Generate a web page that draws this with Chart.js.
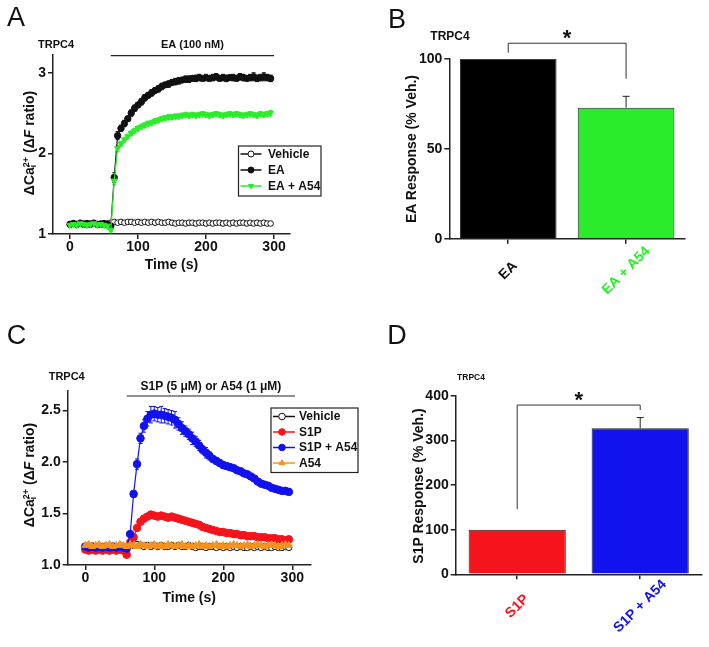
<!DOCTYPE html>
<html>
<head>
<meta charset="utf-8">
<script src="https://cdn.jsdelivr.net/npm/chart.js@4.4.1/dist/chart.umd.min.js"></script>
<style>
  body { margin: 0; background: #fff; }
  #fig { position: relative; width: 709px; height: 647px; overflow: hidden; font-family: "Liberation Sans", Arial, sans-serif; color: #111; }
  #fig canvas { position: absolute; }
  .lbl { position: absolute; transform: translate(-50%, -50%); line-height: 1; white-space: nowrap; font-weight: bold; }
  .letter { font-weight: normal; font-size: 27px; }
  .ytitle { transform: translate(-50%, -50%) rotate(-90deg); font-size: 14px; }
  .ss { display: inline-block; vertical-align: middle; line-height: 0.85; font-size: 9px; text-align: left; }
  .ss span { display: block; }
</style>
</head>
<body>
<div id="fig">
  <canvas id="chartA" width="360" height="320" style="left:0;top:0"></canvas>
  <canvas id="chartB" width="349" height="320" style="left:360px;top:0"></canvas>
  <canvas id="chartC" width="360" height="327" style="left:0;top:320px"></canvas>
  <canvas id="chartD" width="349" height="327" style="left:360px;top:320px"></canvas>

  <div class="lbl letter" style="left:16px;top:17px">A</div>
  <div class="lbl letter" style="left:397px;top:18.5px">B</div>
  <div class="lbl letter" style="left:16.5px;top:334.5px">C</div>
  <div class="lbl letter" style="left:397px;top:334.5px">D</div>

  <div class="lbl" style="left:56px;top:44px;font-size:11px">TRPC4</div>
  <div class="lbl" style="left:450px;top:36px;font-size:12px">TRPC4</div>
  <div class="lbl" style="left:66.7px;top:375.7px;font-size:11px">TRPC4</div>
  <div class="lbl" style="left:471px;top:377px;font-size:8.5px">TRPC4</div>

  <div class="lbl ytitle" style="left:30px;top:143px">ΔCa<span class="ss"><span>2+</span><span>i</span></span> (Δ<i>F</i> ratio)</div>
  <div class="lbl ytitle" style="left:30px;top:475px">ΔCa<span class="ss"><span>2+</span><span>i</span></span> (Δ<i>F</i> ratio)</div>
  <div class="lbl ytitle" style="left:411px;top:149px">EA Response (% Veh.)</div>
  <div class="lbl ytitle" style="left:417.5px;top:486px">S1P Response (% Veh.)</div>
</div>

<script>
// ---------- data ----------
const timePoints = [0,5,10,15,20,25,30,35,40,45,50,55,60,65,70,75,80,85,90,95,100,105,110,115,
  120,125,130,135,140,145,150,155,160,165,170,175,180,185,190,195,200,205,210,215,220,225,230,235,
  240,245,250,255,260,265,270,275,280,285,290,295];

// Panel A (EA 100 nM)
const xTicksA = [0, 100, 200, 300];
const yTicksA = [1, 2, 3];
const vehicleA = [1.12,1.13,1.12,1.14,1.13,1.12,1.13,1.14,1.12,1.13,1.12,1.13,
  1.14,1.15,1.14,1.15,1.14,1.15,1.15,1.14,1.15,1.14,1.15,1.14,
  1.15,1.14,1.15,1.14,1.14,1.15,1.14,1.13,1.14,1.14,1.13,1.14,
  1.14,1.13,1.14,1.14,1.13,1.14,1.13,1.14,1.14,1.13,1.14,1.13,
  1.14,1.13,1.14,1.14,1.13,1.14,1.13,1.14,1.13,1.14,1.13,1.13];
const eaA = [1.12,1.13,1.12,1.13,1.12,1.13,1.12,1.13,1.12,1.12,1.13,1.12,
  1.10,1.70,2.22,2.31,2.37,2.43,2.50,2.56,2.60,2.64,2.69,2.72,
  2.75,2.78,2.80,2.83,2.85,2.86,2.88,2.89,2.90,2.91,2.92,2.92,
  2.93,2.93,2.94,2.93,2.94,2.93,2.94,2.95,2.93,2.94,2.93,2.94,
  2.94,2.93,2.95,2.94,2.93,2.94,2.95,2.93,2.94,2.95,2.94,2.93];
const eaErrA = [0.01,0.01,0.01,0.01,0.01,0.01,0.01,0.01,0.01,0.01,0.01,0.01,
  0.01,0.06,0.05,0.04,0.04,0.03,0.04,0.04,0.03,0.04,0.04,0.03,
  0.04,0.03,0.04,0.04,0.03,0.04,0.03,0.04,0.04,0.03,0.04,0.04,
  0.03,0.04,0.04,0.03,0.04,0.03,0.04,0.04,0.03,0.04,0.04,0.03,
  0.04,0.03,0.04,0.04,0.03,0.04,0.05,0.04,0.04,0.05,0.04,0.04];
const eaA54A = [1.11,1.12,1.11,1.13,1.12,1.11,1.12,1.13,1.11,1.12,1.11,1.10,
  1.05,1.66,2.06,2.12,2.17,2.21,2.25,2.28,2.31,2.33,2.35,2.37,
  2.38,2.40,2.41,2.43,2.44,2.45,2.45,2.46,2.46,2.47,2.48,2.47,
  2.48,2.47,2.48,2.49,2.48,2.47,2.48,2.49,2.48,2.47,2.48,2.49,
  2.48,2.49,2.48,2.47,2.48,2.49,2.48,2.47,2.49,2.48,2.49,2.50];
const eaA54ErrA = [0.02,0.02,0.02,0.02,0.02,0.02,0.02,0.02,0.02,0.02,0.02,0.02,
  0.02,0.05,0.04,0.03,0.03,0.03,0.03,0.03,0.03,0.03,0.03,0.03,
  0.03,0.03,0.03,0.03,0.03,0.03,0.03,0.03,0.03,0.03,0.03,0.03,
  0.03,0.03,0.03,0.03,0.03,0.03,0.03,0.03,0.03,0.03,0.03,0.03,
  0.03,0.03,0.03,0.03,0.03,0.03,0.03,0.03,0.03,0.03,0.03,0.03];

// Panel B
const barLabelsB = ['EA', 'EA + A54'];
const barValuesB = [100, 72.8];
const barErrB = [0, 6.3];
const yTicksB = [0, 50, 100];
const bracketB = [103.3, 108.6, 88.9];   // left leg end, bracket level, right leg end

// Panel C (S1P 5 µM or A54 1 µM)
const xTicksC = [0, 100, 200, 300];
const yTicksC = [1.0, 1.5, 2.0, 2.5];
const vehicleC = [1.17,1.18,1.17,1.18,1.17,1.18,1.17,1.18,1.17,1.18,1.17,1.18,
  1.17,1.20,1.19,1.20,1.19,1.18,1.19,1.18,1.19,1.18,1.19,1.18,
  1.18,1.19,1.18,1.19,1.18,1.18,1.19,1.18,1.17,1.18,1.18,1.17,
  1.18,1.18,1.17,1.18,1.17,1.18,1.17,1.18,1.17,1.18,1.17,1.17,
  1.18,1.17,1.18,1.17,1.18,1.17,1.17,1.18,1.17,1.17,1.18,1.17];
const s1pC = [1.15,1.14,1.15,1.14,1.15,1.14,1.15,1.14,1.15,1.14,1.15,1.14,
  1.10,1.22,1.27,1.36,1.42,1.45,1.47,1.49,1.48,1.47,1.48,1.47,
  1.46,1.47,1.46,1.45,1.44,1.43,1.42,1.41,1.40,1.39,1.37,1.36,
  1.35,1.34,1.33,1.32,1.32,1.31,1.31,1.30,1.30,1.29,1.29,1.28,
  1.28,1.28,1.27,1.27,1.27,1.26,1.26,1.26,1.25,1.25,1.24,1.25];
const s1pA54C = [1.18,1.17,1.18,1.17,1.18,1.17,1.18,1.17,1.18,1.17,1.18,1.17,
  1.16,1.30,1.69,1.98,2.23,2.35,2.42,2.46,2.47,2.46,2.46,2.45,
  2.44,2.43,2.41,2.37,2.33,2.30,2.27,2.23,2.20,2.16,2.12,2.09,
  2.06,2.03,2.01,1.99,1.97,1.96,1.95,1.94,1.92,1.91,1.89,1.88,
  1.86,1.84,1.81,1.79,1.78,1.77,1.75,1.74,1.73,1.72,1.72,1.71];
const s1pA54ErrC = [0.01,0.01,0.01,0.01,0.01,0.01,0.01,0.01,0.01,0.01,0.01,0.01,
  0.01,0.02,0.03,0.05,0.05,0.06,0.07,0.08,0.07,0.07,0.08,0.07,
  0.07,0.07,0.08,0.06,0.06,0.05,0.05,0.06,0.05,0.05,0.04,0.05,
  0.04,0.03,0.03,0.03,0.03,0.02,0.03,0.02,0.02,0.03,0.02,0.02,
  0.02,0.02,0.02,0.02,0.02,0.02,0.02,0.02,0.02,0.02,0.02,0.02];
const a54C = [1.19,1.20,1.18,1.19,1.20,1.18,1.19,1.20,1.18,1.19,1.20,1.19,
  1.18,1.20,1.19,1.18,1.20,1.19,1.18,1.19,1.20,1.18,1.19,1.18,
  1.20,1.19,1.18,1.19,1.20,1.18,1.19,1.18,1.19,1.20,1.18,1.19,
  1.18,1.19,1.20,1.18,1.19,1.18,1.19,1.20,1.19,1.18,1.19,1.20,
  1.18,1.19,1.20,1.19,1.18,1.19,1.20,1.19,1.18,1.19,1.20,1.19];

// Panel D
const barLabelsD = ['S1P', 'S1P + A54'];
const barValuesD = [100, 327];
const barErrD = [0, 24];
const yTicksD = [0, 100, 200, 300, 400];
const bracketD = [146, 379, 368];

// ---------- styling ----------
const FONT = '"Liberation Sans", Arial, sans-serif';
const AXIS = '#222';
const GREEN = '#2bec2b';
const RED = '#f5141c';
const BLUE = '#1212ee';
const ORANGE = '#f5931f';
Chart.defaults.font.family = FONT;

const tickFont = { family: FONT, size: 14, weight: 'bold' };
const gridOpts = { drawOnChartArea: false, drawTicks: true, tickLength: 5, color: AXIS, lineWidth: 1.5 };
const borderOpts = { display: true, color: AXIS, width: 1.5 };

function fixedTicks(list) {
  return scale => { scale.ticks = list.map(v => ({ value: v })); };
}

function series(label, values, color, extra) {
  return Object.assign({
    label,
    data: timePoints.map((t, i) => ({ x: t, y: values[i] })),
    borderColor: color, backgroundColor: color,
    pointBackgroundColor: color, pointBorderColor: color,
    borderWidth: 1.2, pointBorderWidth: 1, pointRadius: 3,
    pointStyle: 'circle', tension: 0
  }, extra || {});
}

// ---------- plugins ----------
const errorBars = {
  id: 'errorBars',
  draw(chart) {
    const ctx = chart.ctx, y = chart.scales.y;
    ctx.save();
    chart.data.datasets.forEach((ds, di) => {
      if (!ds.errors) return;
      const meta = chart.getDatasetMeta(di);
      ctx.strokeStyle = ds.errorColor || ds.borderColor;
      ctx.lineWidth = 1;
      meta.data.forEach((el, i) => {
        const e = ds.errors[i];
        if (!e) return;
        const v = typeof ds.data[i] === 'object' ? ds.data[i].y : ds.data[i];
        const top = y.getPixelForValue(v + e);
        const bot = ds.errorUp ? y.getPixelForValue(v) : y.getPixelForValue(v - e);
        const cw = ds.capWidth || 2;
        ctx.beginPath();
        ctx.moveTo(el.x, top); ctx.lineTo(el.x, bot);
        ctx.moveTo(el.x - cw, top); ctx.lineTo(el.x + cw, top);
        if (!ds.errorUp) { ctx.moveTo(el.x - cw, bot); ctx.lineTo(el.x + cw, bot); }
        ctx.stroke();
      });
    });
    ctx.restore();
  },
  beforeDatasetsDraw(chart) { if (chart.config.type === 'line') this.draw(chart); },
  afterDatasetsDraw(chart) { if (chart.config.type === 'bar') this.draw(chart); }
};

const boxLegend = {
  id: 'boxLegend',
  afterDraw(chart, args, o) {
    const ctx = chart.ctx;
    ctx.save();
    ctx.fillStyle = '#fff';
    ctx.fillRect(o.x, o.y, o.w, o.h);
    ctx.strokeStyle = AXIS; ctx.lineWidth = 1.2;
    ctx.strokeRect(o.x, o.y, o.w, o.h);
    ctx.font = 'bold 12px ' + FONT;
    ctx.textBaseline = 'middle';
    chart.data.datasets.forEach((ds, i) => {
      const cy = o.y + o.first + i * o.step;
      ctx.strokeStyle = ds.borderColor; ctx.lineWidth = 1.5;
      ctx.beginPath(); ctx.moveTo(o.x + 2, cy); ctx.lineTo(o.x + o.sym, cy); ctx.stroke();
      ctx.fillStyle = ds.pointBackgroundColor; ctx.strokeStyle = ds.pointBorderColor; ctx.lineWidth = 1;
      Chart.helpers.drawPoint(ctx, { pointStyle: ds.pointStyle, rotation: ds.pointRotation || 0, radius: o.r, borderWidth: 1 },
        o.x + o.mark, cy);
      ctx.fillStyle = '#111';
      ctx.fillText(ds.label, o.x + o.text, cy + 0.5);
    });
    ctx.restore();
  }
};

const treatment = {
  id: 'treatment',
  afterDraw(chart, args, o) {
    const ctx = chart.ctx, x = chart.scales.x;
    const x0 = x.getPixelForValue(o.start), x1 = x.getPixelForValue(o.end);
    const yl = chart.chartArea.top + o.offset;
    ctx.save();
    ctx.strokeStyle = AXIS; ctx.lineWidth = 1.2;
    ctx.beginPath(); ctx.moveTo(x0, yl); ctx.lineTo(x1, yl); ctx.stroke();
    ctx.fillStyle = '#111';
    ctx.font = 'bold ' + o.size + 'px ' + FONT;
    ctx.textAlign = 'center'; ctx.textBaseline = 'middle';
    ctx.fillText(o.text, (x0 + x1) / 2, yl - o.gap);
    ctx.restore();
  }
};

const slantLabels = {
  id: 'slantLabels',
  afterDraw(chart, args, o) {
    const ctx = chart.ctx, x = chart.scales.x;
    ctx.save();
    ctx.font = 'bold 14px ' + FONT;
    ctx.textAlign = 'center'; ctx.textBaseline = 'middle';
    chart.data.labels.forEach((lab, i) => {
      ctx.save();
      ctx.translate(x.getPixelForTick(i), chart.chartArea.bottom + o.offset);
      ctx.rotate(-Math.PI / 4);
      ctx.fillStyle = o.colors[i];
      ctx.fillText(lab, 0, 0);
      ctx.restore();
    });
    ctx.restore();
  }
};

const bracket = {
  id: 'bracket',
  afterDraw(chart, args, o) {
    const ctx = chart.ctx, x = chart.scales.x, y = chart.scales.y;
    const xl = x.getPixelForTick(0), xr = x.getPixelForTick(1);
    const yLevel = y.getPixelForValue(o.values[1]);
    ctx.save();
    ctx.strokeStyle = '#333'; ctx.lineWidth = 1;
    ctx.beginPath();
    ctx.moveTo(xl, y.getPixelForValue(o.values[0]));
    ctx.lineTo(xl, yLevel); ctx.lineTo(xr, yLevel);
    ctx.lineTo(xr, y.getPixelForValue(o.values[2]));
    ctx.stroke();
    ctx.fillStyle = '#111';
    ctx.font = 'bold 22px ' + FONT;
    ctx.textAlign = 'center'; ctx.textBaseline = 'alphabetic';
    ctx.fillText('*', (xl + xr) / 2, yLevel + 2);
    ctx.restore();
  }
};

// ---------- chart builders ----------
function lineChart(id, datasets, cfg) {
  return new Chart(document.getElementById(id), {
    type: 'line',
    data: { datasets },
    options: {
      responsive: false, animation: false, events: [],
      layout: { padding: cfg.padding },
      plugins: { legend: { display: false }, tooltip: { enabled: false },
        boxLegend: cfg.legend, treatment: cfg.treatment },
      scales: {
        x: {
          type: 'linear', min: cfg.xMin, max: cfg.xMax,
          afterBuildTicks: fixedTicks(cfg.xTicks),
          afterFit: s => { s.height = cfg.xHeight; },
          grid: gridOpts, border: borderOpts,
          ticks: { color: '#111', font: tickFont, padding: 0, maxRotation: 0 },
          title: { display: true, text: 'Time (s)', color: '#111', padding: 0,
            font: { family: FONT, size: 14, weight: 'bold' } }
        },
        y: {
          min: cfg.yMin, max: cfg.yMax,
          afterBuildTicks: fixedTicks(cfg.yTicks),
          afterFit: s => { s.width = cfg.yWidth; },
          grid: gridOpts, border: borderOpts,
          ticks: { color: '#111', font: tickFont, padding: 2,
            callback: v => cfg.yDecimals ? Number(v).toFixed(cfg.yDecimals) : v }
        }
      }
    },
    plugins: [errorBars, boxLegend, treatment]
  });
}

function barChart(id, labels, values, errs, colors, cfg) {
  return new Chart(document.getElementById(id), {
    type: 'bar',
    data: {
      labels,
      datasets: [{
        data: values, errors: errs, errorUp: true, capWidth: 3.5, errorColor: '#222',
        backgroundColor: colors, borderColor: '#222', borderWidth: 1,
        barPercentage: cfg.barPct, categoryPercentage: 1
      }]
    },
    options: {
      responsive: false, animation: false, events: [],
      layout: { padding: cfg.padding },
      plugins: { legend: { display: false }, tooltip: { enabled: false },
        slantLabels: { offset: 32, colors: cfg.labelColors },
        bracket: { values: cfg.bracket } },
      scales: {
        x: {
          grid: Object.assign({}, gridOpts, { offset: false }), border: borderOpts,
          ticks: { display: false },
          afterFit: s => { s.height = 60; }
        },
        y: {
          min: cfg.yMin, max: cfg.yMax,
          afterBuildTicks: fixedTicks(cfg.yTicks),
          afterFit: s => { s.width = cfg.yWidth; },
          grid: gridOpts, border: borderOpts,
          ticks: { color: '#111', font: tickFont, padding: 2 }
        }
      }
    },
    plugins: [errorBars, slantLabels, bracket]
  });
}

// Panel A
lineChart('chartA', [
  series('Vehicle', vehicleA, '#111', { pointBackgroundColor: '#fff', pointRadius: 2.8, order: 2 }),
  series('EA', eaA, '#111', { errors: eaErrA, pointRadius: 3.2, order: 1 }),
  series('EA + A54', eaA54A, GREEN, { errors: eaA54ErrA, pointStyle: 'triangle', pointRotation: 180, pointRadius: 3.5, order: 0 })
], {
  padding: { left: 0, top: 55, right: 70, bottom: 46 },
  xMin: -25, xMax: 323.5, xTicks: xTicksA, xHeight: 40,
  yMin: 1, yMax: 3.22, yTicks: yTicksA, yWidth: 53,
  legend: { x: 238.5, y: 146, w: 82.5, h: 50, first: 8, step: 16, sym: 23, mark: 12.5, r: 3, text: 29.5 },
  treatment: { start: 60, end: 300, offset: 0.7, gap: 10.7, text: 'EA (100 nM)', size: 11 }
});

// Panel B
barChart('chartB', barLabelsB, barValuesB, barErrB, ['#000', GREEN], {
  padding: { left: 0, top: 58.7, right: 24, bottom: 21.3 },
  barPct: 0.82, yMin: 0, yMax: 100, yTicks: yTicksB, yWidth: 89.3,
  labelColors: ['#111', GREEN], bracket: bracketB
});

// Panel C
lineChart('chartC', [
  series('Vehicle', vehicleC, '#111', { pointBackgroundColor: '#fff', pointRadius: 3.2, order: 3 }),
  series('S1P', s1pC, RED, { pointRadius: 3.8, order: 2 }),
  series('S1P + A54', s1pA54C, BLUE, { errors: s1pA54ErrC, pointRadius: 3.8, order: 1 }),
  series('A54', a54C, ORANGE, { pointStyle: 'triangle', pointRadius: 4, order: 0 })
], {
  padding: { left: 0, top: 71, right: 49.3, bottom: 40.6 },
  xMin: -25.5, xMax: 326.7, xTicks: xTicksC, xHeight: 41.4,
  yMin: 1, yMax: 2.69, yTicks: yTicksC, yWidth: 67.7, yDecimals: 1,
  legend: { x: 271, y: 88, w: 87, h: 64.5, first: 8.5, step: 15.5, sym: 24, mark: 11, r: 3.3, text: 28 },
  treatment: { start: 60, end: 304, offset: 5, gap: 9.3, text: 'S1P (5 μM) or A54 (1 μM)', size: 12 }
});

// Panel D
barChart('chartD', barLabelsD, barValuesD, barErrD, [RED, BLUE], {
  padding: { left: 0, top: 75.7, right: 7.3, bottom: 12.7 },
  barPct: 0.79, yMin: 0, yMax: 400, yTicks: yTicksD, yWidth: 95.7,
  labelColors: [RED, BLUE], bracket: bracketD
});
</script>
</body>
</html>
